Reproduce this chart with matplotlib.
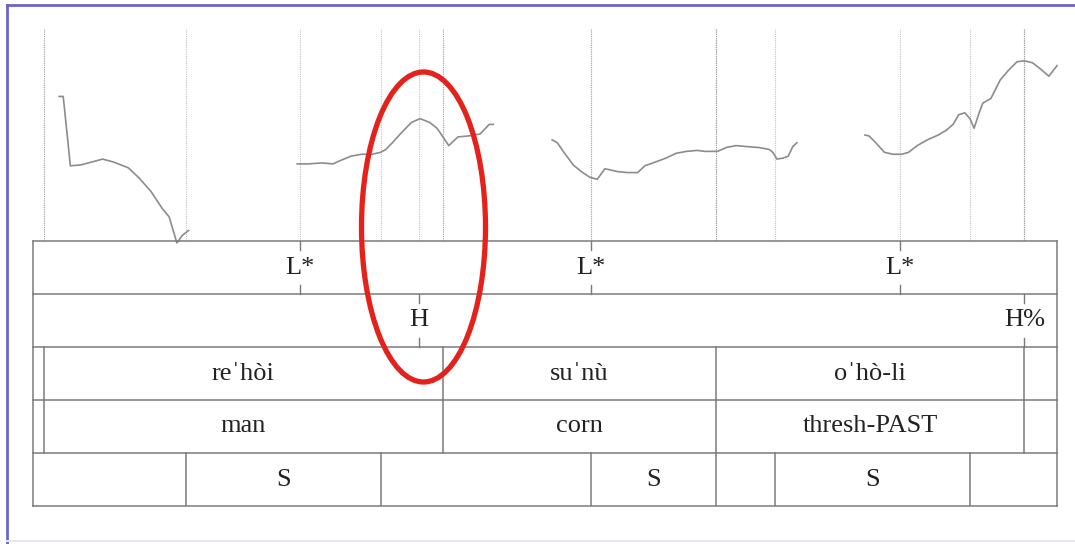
import matplotlib
matplotlib.use("Agg")
import matplotlib.pyplot as plt
from matplotlib.patches import Ellipse
from matplotlib.lines import Line2D

# pitch track (time in s, f0 in Hz), four voiced stretches
t1 = [0.051, 0.059, 0.073, 0.094, 0.136, 0.157, 0.186, 0.208, 0.231, 0.252, 0.266, 0.281, 0.292, 0.304]
f1 = [230, 230, 158, 159, 165, 162, 156, 145, 131, 114, 105, 78, 86, 91]
t2 = [0.516, 0.537, 0.564, 0.586, 0.598, 0.621, 0.641, 0.662, 0.679, 0.689, 0.702, 0.719, 0.739,
      0.756, 0.775, 0.789, 0.802, 0.812, 0.820, 0.830, 0.850, 0.873, 0.884, 0.891, 0.899]
f2 = [160, 160, 161, 160, 163, 168, 170, 170, 172, 175, 182, 192, 203,
      207, 203, 197, 187, 179, 183, 188, 189, 191, 197, 201, 201]
t3 = [1.014, 1.024, 1.037, 1.055, 1.071, 1.088, 1.102, 1.117, 1.142, 1.162, 1.181, 1.195, 1.216,
      1.236, 1.256, 1.276, 1.297, 1.313, 1.337, 1.354, 1.373, 1.394, 1.418, 1.438, 1.445, 1.453,
      1.465, 1.475, 1.484, 1.492]
f3 = [185, 182, 172, 159, 152, 146, 144, 155, 152, 151, 151, 158, 162,
      166, 171, 173, 174, 173, 173, 177, 179, 178, 177, 175, 172, 165,
      166, 168, 178, 182]
t4 = [1.625, 1.633, 1.646, 1.663, 1.680, 1.697, 1.710, 1.727, 1.747, 1.768, 1.784, 1.797, 1.808,
      1.820, 1.830, 1.838, 1.848, 1.855, 1.871, 1.889, 1.905, 1.922, 1.936, 1.952, 1.969, 1.984, 2.0]
f4 = [190, 189, 182, 172, 170, 170, 172, 179, 185, 190, 195, 201, 211,
      213, 207, 197, 213, 223, 228, 247, 257, 266, 267, 265, 258, 251, 262]
pitch_t = [t1, t2, t3, t4]
pitch_f = [f1, f2, f3, f4]

duration = 2.0
f0_min, f0_max = 80, 300

# tier 1: pitch accents (points)
accent_times = [0.521, 1.090, 1.693]
accent_labels = ["L*", "L*", "L*"]
# tier 2: phrase tones (points)
phrase_times = [0.754, 1.936]
phrase_labels = ["H", "H%"]
# tier 3: words (intervals)
word_bounds = [0.021, 0.801, 1.334, 1.936]
word_labels = ["re\u02c8hòi", "su\u02c8nù", "o\u02c8hò-li"]
# tier 4: glosses (intervals)
gloss_labels = ["man", "corn", "thresh-PAST"]
# tier 5: stressed syllables (intervals)
syl_bounds = [0.299, 0.680, 1.090, 1.334, 1.449, 1.830]
syl_labels = ["", "S", "", "S", "", "S", ""]

serif = ["Liberation Serif", "DejaVu Serif"]
fsize = 19
line_col = "#7a7a7a"

fig = plt.figure(figsize=(10.75, 5.44), dpi=100)
W, H = 1075, 544

# pitch panel
ax_p = fig.add_axes([33 / W, (H - 241) / H, 1024 / W, 212 / H])
ax_p.set_xlim(0, duration)
ax_p.set_ylim(f0_min, f0_max)
ax_p.axis("off")

# dotted boundary lines from every tier
all_lines = accent_times + phrase_times + word_bounds + word_bounds + syl_bounds
for x in all_lines:
    ax_p.axvline(x, color="#9a9a9a", linestyle=(0, (1, 1)), linewidth=0.8, alpha=0.6)

for tt, ff in zip(pitch_t, pitch_f):
    ax_p.plot(tt, ff, color="#8c8c8c", linewidth=1.2, clip_on=False, zorder=3)

# tiers panel
ax_t = fig.add_axes([33 / W, (H - 506) / H, 1024 / W, 265 / H])
ax_t.set_xlim(0, duration)
ax_t.set_ylim(5, 0)
ax_t.axis("off")

for k in range(6):
    ax_t.plot([0, duration], [k, k], color=line_col, linewidth=1.1, clip_on=False)
for x in [0, duration]:
    ax_t.plot([x, x], [0, 5], color=line_col, linewidth=1.1, clip_on=False)

tick = 0.17


def point_tier(row, times, labels):
    for x, lab in zip(times, labels):
        ax_t.plot([x, x], [row, row + tick], color=line_col, linewidth=1.0)
        ax_t.plot([x, x], [row + 1 - tick, row + 1], color=line_col, linewidth=1.0)
        ax_t.text(x, row + 0.5, lab, ha="center", va="center", fontsize=fsize,
                  family=serif, color="#222222")


def interval_tier(row, bounds, labels):
    for x in bounds:
        ax_t.plot([x, x], [row, row + 1], color=line_col, linewidth=1.1)
    edges = [0] + bounds + [duration]
    for a, b, lab in zip(edges[:-1], edges[1:], labels):
        if lab:
            ax_t.text((a + b) / 2, row + 0.5, lab, ha="center", va="center",
                      fontsize=fsize, family=serif, color="#222222")


point_tier(0, accent_times, accent_labels)
point_tier(1, phrase_times, phrase_labels)
interval_tier(2, word_bounds, [""] + word_labels + [""])
interval_tier(3, word_bounds, [""] + gloss_labels + [""])
interval_tier(4, syl_bounds, syl_labels)

# red highlight ellipse
fig.patches.append(Ellipse((423.5 / W, 1 - 227 / H), 124 / W, 310 / H,
                           transform=fig.transFigure, fill=False,
                           edgecolor="#e3231b", linewidth=3.8, zorder=10))

# slide frame
fig.lines.append(Line2D([7 / W, 7 / W], [0, 1 - 5 / H], transform=fig.transFigure,
                        color="#6c64c6", linewidth=2.0))
fig.lines.append(Line2D([7 / W, 1], [1 - 5 / H, 1 - 5 / H], transform=fig.transFigure,
                        color="#6c64c6", linewidth=2.0))
fig.lines.append(Line2D([7 / W, 1], [3 / H, 3 / H], transform=fig.transFigure,
                        color="#e6e4f5", linewidth=1.5))

fig.savefig("out.png", dpi=100)
